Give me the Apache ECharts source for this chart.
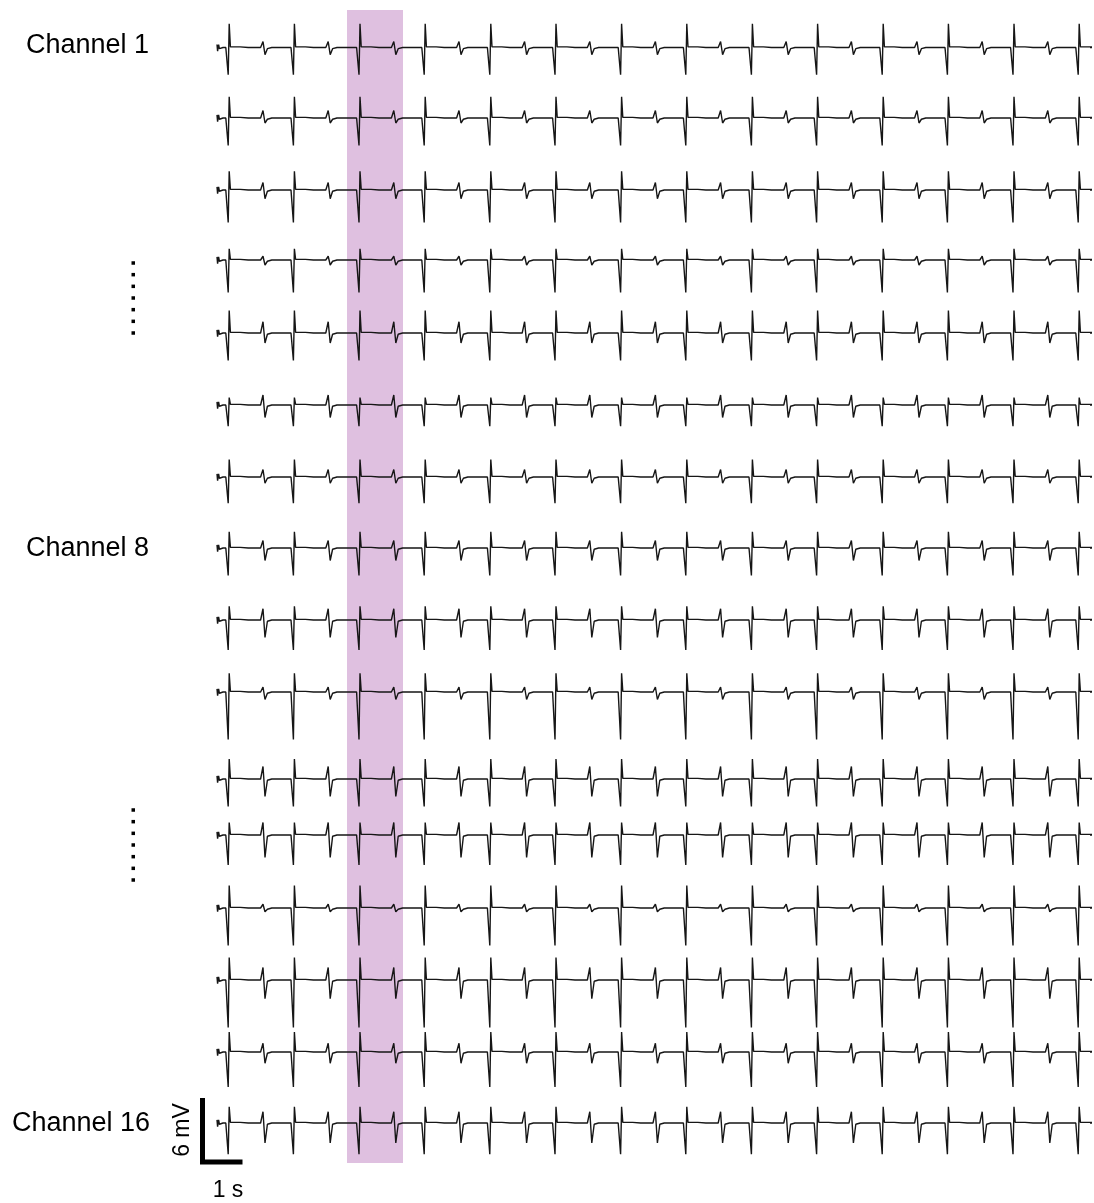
<!DOCTYPE html>
<html>
<head>
<meta charset="utf-8">
<script src="https://cdn.jsdelivr.net/npm/echarts@6/dist/echarts.min.js"></script>
<style>html,body{margin:0;padding:0;background:#fff}#c{width:1094px;height:1203px}</style>
</head>
<body>
<div id="c"></div>
<script>
// ---------- data ----------
const channelLabels = {0: 'Channel 1', 7: 'Channel 8', 15: 'Channel 16'};
// times (s) of the large complexes and of the small complexes, from trace start
const beatTimes = [0.28, 1.91, 3.55, 5.18, 6.82, 8.45, 10.09, 11.72, 13.36, 14.99, 16.63, 18.26, 19.90, 21.53];
const smallBeatTimes = [1.15, 2.78, 4.42, 6.05, 7.69, 9.32, 10.96, 12.59, 14.23, 15.86, 17.50, 19.13, 20.77];
// amplitudes in mV, per channel 1..16
const bigUp     = [2.0, 1.7, 1.5, 0.9, 1.8, 0.6, 1.4, 1.3, 1.1, 1.5, 1.6, 1.0, 1.8, 1.8, 1.6, 1.3];
const bigDown   = [2.3, 2.2, 2.6, 2.6, 2.2, 1.7, 2.1, 2.2, 2.4, 3.8, 2.2, 2.4, 3.0, 3.8, 2.8, 2.5];
const smallUp   = [0.5, 0.6, 0.6, 0.3, 0.9, 0.8, 0.6, 0.6, 0.9, 0.4, 1.0, 1.0, 0.3, 1.0, 0.7, 0.9];
const smallDown = [0.6, 0.4, 0.7, 0.4, 0.8, 1.0, 0.5, 1.0, 1.4, 0.6, 1.4, 1.8, 0.3, 1.5, 0.9, 1.6];
const highlightWindow = [3.25, 4.65]; // s
const traceDuration = 21.825;         // s
const scaleBar = {seconds: 1, millivolts: 6};

// ---------- layout ----------
const rowBaselines = [45, 118, 190, 260, 333, 405, 477, 548, 620, 692, 779, 835, 908, 980, 1052, 1123];
const plotLeft = 217, plotWidth = 873;   // 40 px per s
const rowHalf = 50;                      // 12.5 px per mV, +-4 mV
const FONT = "'Liberation Sans', Arial, sans-serif";

function buildTrace(ch) {
  const ev = beatTimes.map(t => [t, 'big']).concat(smallBeatTimes.map(t => [t, 'small']));
  ev.sort((a, b) => a[0] - b[0]);
  const pts = [[0, 0.25], [0.015, -0.3], [0.04, 0.25], [0.06, -0.1], [0.1, 0.05], [0.15, 0]];
  ev.forEach(([t, k]) => {
    if (k === 'big') {
      pts.push([t - 0.06, 0], [t - 0.03, 0.12], [t - 0.012, 0], [t, -bigDown[ch]],
               [t + 0.025, bigUp[ch]], [t + 0.055, 0.05], [t + 0.1, 0.12], [t + 0.3, 0.05], [t + 0.5, 0]);
    } else {
      pts.push([t - 0.06, 0], [t, smallUp[ch]], [t + 0.05, -smallDown[ch]], [t + 0.11, -0.1], [t + 0.22, 0]);
    }
  });
  pts.push([traceDuration, 0]);
  return pts;
}

const grids = [], xAxes = [], yAxes = [], series = [];
// highlight grid
grids.push({left: plotLeft, width: plotWidth, top: 10, height: 1153});
xAxes.push({gridIndex: 0, type: 'value', min: 0, max: traceDuration, show: false});
yAxes.push({gridIndex: 0, type: 'value', min: 0, max: 1, show: false});
series.push({
  type: 'line', xAxisIndex: 0, yAxisIndex: 0, data: [], z: 1, silent: true,
  markArea: {silent: true, itemStyle: {color: '#dfc0e0', opacity: 1},
    data: [[{xAxis: highlightWindow[0]}, {xAxis: highlightWindow[1]}]]}
});
// channels
rowBaselines.forEach((b, ch) => {
  const gi = grids.length;
  grids.push({left: plotLeft, width: plotWidth, top: b - rowHalf, height: rowHalf * 2});
  xAxes.push({gridIndex: gi, type: 'value', min: 0, max: traceDuration, show: false});
  yAxes.push({gridIndex: gi, type: 'value', min: -4, max: 4, show: false});
  series.push({
    type: 'line', xAxisIndex: gi, yAxisIndex: gi, data: buildTrace(ch), showSymbol: false,
    symbol: 'none', sampling: null, z: 3, clip: false,
    lineStyle: {color: '#161616', width: 1.4}, silent: true
  });
});
// scale bar grid
const sg = grids.length;
grids.push({left: 202.5, width: 40, top: 1098, height: 75});
xAxes.push({gridIndex: sg, type: 'value', min: 0, max: scaleBar.seconds, axisLine: {show: false},
  axisTick: {show: false}, axisLabel: {show: false}, splitLine: {show: false},
  name: scaleBar.seconds + ' s', nameLocation: 'middle', nameGap: 17,
  nameTextStyle: {fontFamily: FONT, fontSize: 23, color: '#000', padding: [0, 0, 0, 11]}});
yAxes.push({gridIndex: sg, type: 'value', min: 0, max: scaleBar.millivolts, axisLine: {show: false},
  axisTick: {show: false}, axisLabel: {show: false}, splitLine: {show: false},
  name: scaleBar.millivolts + ' mV', nameLocation: 'middle', nameGap: 8, nameRotate: 90,
  nameTextStyle: {fontFamily: FONT, fontSize: 23, color: '#000'}});
series.push({type: 'line', xAxisIndex: sg, yAxisIndex: sg, clip: false, showSymbol: false, symbol: 'none',
  data: [[0, scaleBar.millivolts], [0, 0], [scaleBar.seconds, 0]],
  lineStyle: {color: '#000', width: 5, join: 'miter', cap: 'butt'}, z: 3, silent: true});

// labels and ellipsis dots
const graphic = [];
const labelLeft = {0: 26, 7: 26, 15: 12};
Object.keys(channelLabels).forEach(k => {
  graphic.push({type: 'text', x: labelLeft[k], y: rowBaselines[k] + 1,
    style: {text: channelLabels[k], font: '27px ' + FONT, fill: '#000', verticalAlign: 'middle', textVerticalAlign: 'middle'}});
});
[[263, 333], [810, 880]].forEach(([a, b]) => {
  for (let i = 0; i < 7; i++) {
    const y = a + (b - a) * i / 6;
    graphic.push({type: 'rect', shape: {x: 131.5, y: y - 1.75, width: 3.5, height: 3.5}, style: {fill: '#000'}});
  }
});

const chart = echarts.init(document.getElementById('c'), null, {renderer: 'canvas'});
chart.setOption({animation: false, backgroundColor: '#fff', grid: grids, xAxis: xAxes, yAxis: yAxes,
  series: series, graphic: graphic});
</script>
</body>
</html>
